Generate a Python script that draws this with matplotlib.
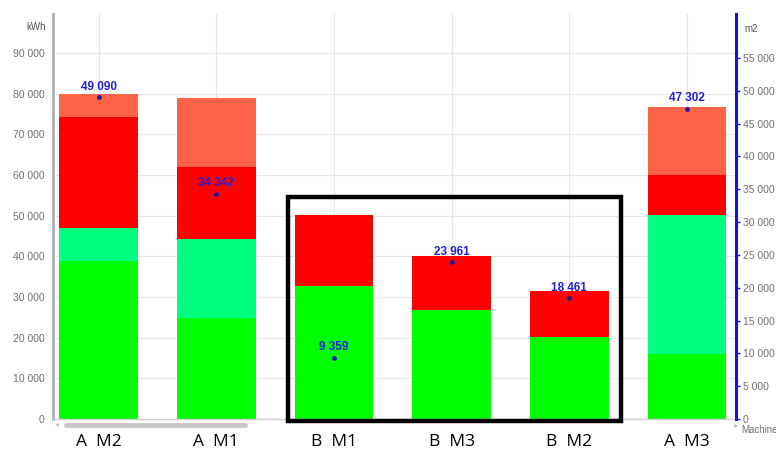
import numpy as np
import matplotlib
matplotlib.use("Agg")
import matplotlib.pyplot as plt
from matplotlib.patches import Rectangle
from matplotlib.lines import Line2D

# Machines and energy segments (kWh), bottom to top
machines = ["A  M2", "A  M1", "B  M1", "B  M3", "B  M2", "A  M3"]
seg_green = [38800, 24900, 32800, 26700, 20200, 15900]
seg_mint = [8100, 19300, 0, 0, 0, 34200]
seg_red = [27400, 17800, 17300, 13300, 11400, 9900]
seg_salmon = [5700, 17000, 0, 0, 0, 16800]
seg_colors = ["#00ff00", "#00ff80", "#ff0000", "#ff6347"]

# Surface per machine (m2), right axis
area_m2 = [49090, 34342, 9359, 23961, 18461, 47302]

left_ticks = list(range(0, 90001, 10000))
right_ticks = list(range(0, 55001, 5000))


def fmt(v):
    return f"{v:,}".replace(",", " ")


plt.rcParams["font.family"] = ["Liberation Sans", "DejaVu Sans"]

fig = plt.figure(figsize=(7.76, 4.53), dpi=100)
ax = fig.add_axes([53 / 776, 34 / 453, 683 / 776, 405 / 453])

x = np.arange(len(machines))
bottom = np.zeros(len(machines))
for seg, col in zip([seg_green, seg_mint, seg_red, seg_salmon], seg_colors):
    ax.bar(x, seg, width=0.67, bottom=bottom, color=col, zorder=2)
    bottom += np.array(seg)

ax.set_xlim(-0.387, 5.416)
ax.set_ylim(0, 99600)
ax.set_yticks(left_ticks)
ax.set_yticklabels([fmt(v) for v in left_ticks], color="#707070", fontsize=7.5)
ax.tick_params(axis="y", length=0, pad=6)
ax.set_xticks(x)
ax.set_xticklabels(machines, fontsize=12.5, family=["Open Sans", "DejaVu Sans"], color="black")
ax.tick_params(axis="x", length=0, pad=11)
ax.grid(True, color="#e6e6e6", linewidth=0.8, zorder=0)
ax.set_axisbelow(True)
for s in ["top", "right"]:
    ax.spines[s].set_visible(False)
ax.spines["left"].set_color("#b0b0b0")
ax.spines["left"].set_linewidth(2)
ax.spines["bottom"].set_color("#d0d0d0")
ax.spines["bottom"].set_linewidth(1)

# Right axis for surface
ax2 = ax.twinx()
ax2.set_ylim(0, 61700)
ax2.set_yticks(right_ticks)
ax2.set_yticklabels([fmt(v) for v in right_ticks], color="#707070", fontsize=7.5)
ax2.tick_params(axis="y", colors="#1010e0", length=3, width=1, pad=2)
for lbl in ax2.get_yticklabels():
    lbl.set_color("#707070")
for s in ["top", "left", "bottom"]:
    ax2.spines[s].set_visible(False)
ax2.spines["right"].set_color("#1010e0")
ax2.spines["right"].set_linewidth(2.2)

ax2.scatter(x, area_m2, s=6, color="#1a1aa0", zorder=4)
for xi, v in zip(x, area_m2):
    ax2.annotate(fmt(v), (xi, v), xytext=(0, 3), textcoords="offset points",
                 ha="center", va="bottom", color="#2020e0", fontsize=8.5,
                 fontweight="bold", zorder=5)

# Axis units
fig.text(36 / 776, 1 - 27 / 453, "kWh", fontsize=7, color="#505050", ha="center", va="center")
fig.text(744 / 776, 1 - 29 / 453, "m2", fontsize=7, color="#505050", ha="left", va="center")
fig.text(741 / 776, 1 - 430 / 453, "Machine", fontsize=7, color="#707070", ha="left", va="center")

# Scroll bar under the axis
fig.add_artist(Line2D([66 / 776, 245 / 776], [1 - 425 / 453] * 2, color="#c8c8c8",
                      linewidth=3.5, solid_capstyle="round"))
fig.text(57 / 776, 1 - 425 / 453, "\u25c2", fontsize=6, color="#c0c0c0", ha="center", va="center")
fig.text(736 / 776, 1 - 426 / 453, "\u25b8", fontsize=6, color="#c0c0c0", ha="center", va="center")

# Highlight frame around the B machines
fig.add_artist(Rectangle((288 / 776, 1 - 421 / 453), 333 / 776, 224 / 453,
                         fill=False, edgecolor="black", linewidth=3.2,
                         transform=fig.transFigure, zorder=10))

fig.savefig("out.png", dpi=100)
